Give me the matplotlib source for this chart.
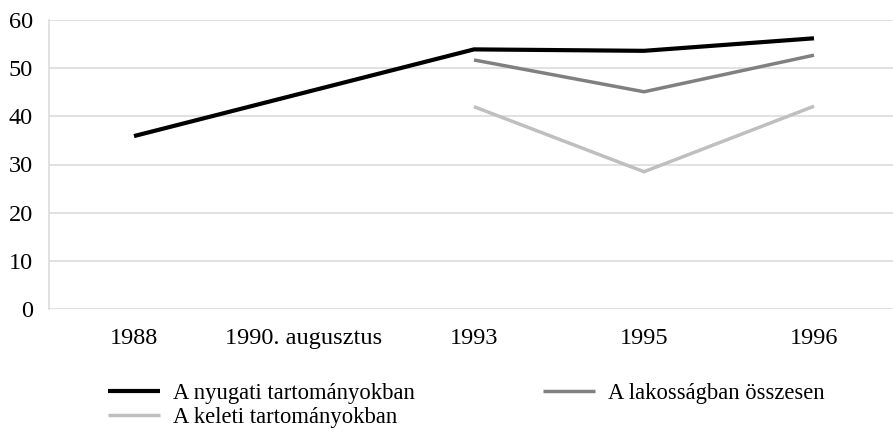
import matplotlib
matplotlib.use("Agg")
import matplotlib.pyplot as plt
import numpy as np

categories = ["1988", "1990. augusztus", "1993", "1995", "1996"]
nyugati = [35.9, 44.9, 53.9, 53.6, 56.2]
lakossag = [np.nan, np.nan, 51.7, 45.1, 52.7]
keleti = [np.nan, np.nan, 42.0, 28.5, 42.1]
yticks = [0, 10, 20, 30, 40, 50, 60]
labels = ["A nyugati tartományokban", "A lakosságban összesen", "A keleti tartományokban"]

plt.rcParams['font.family'] = ['Liberation Serif', 'DejaVu Serif']

fig = plt.figure(figsize=(8.93, 4.32), dpi=100)
ax = fig.add_axes([49/893, 123/432, 850/893, 289/432])

x = np.arange(len(categories))
l1, = ax.plot(x, nyugati, color='#000000', lw=3.0, solid_capstyle='butt', solid_joinstyle='miter', zorder=5)
l2, = ax.plot(x, lakossag, color='#808080', lw=2.5, solid_capstyle='butt', solid_joinstyle='miter', zorder=4)
l3, = ax.plot(x, keleti, color='#bfbfbf', lw=2.5, solid_capstyle='butt', solid_joinstyle='miter', zorder=3)

ax.set_xlim(-0.5, len(categories) - 0.5)
ax.set_ylim(0, 60)
ax.set_yticks(yticks)
ax.set_xticks(x)
ax.set_xticklabels(categories)
ax.grid(axis='y', color='#d9d9d9', lw=1.1)
ax.set_axisbelow(True)
for s in ['top', 'right', 'bottom']:
    ax.spines[s].set_visible(False)
ax.spines['left'].set_color('#d9d9d9')
ax.spines['left'].set_linewidth(1.1)
ax.tick_params(length=0, labelsize=17.5, colors='#000000')
ax.tick_params(axis='y', pad=11.5)
ax.tick_params(axis='x', pad=14)

leg_kw = dict(frameon=False, fontsize=16.3, handlelength=2.3, handletextpad=0.55,
              borderpad=0, borderaxespad=0, loc='center left')
fig.legend([l1], [labels[0]], bbox_to_anchor=(108/893, 1 - 393/432), **leg_kw)
fig.legend([l2], [labels[1]], bbox_to_anchor=(543/893, 1 - 393/432), **leg_kw)
fig.legend([l3], [labels[2]], bbox_to_anchor=(108/893, 1 - 417/432), **leg_kw)

fig.savefig("out.png", dpi=100)
